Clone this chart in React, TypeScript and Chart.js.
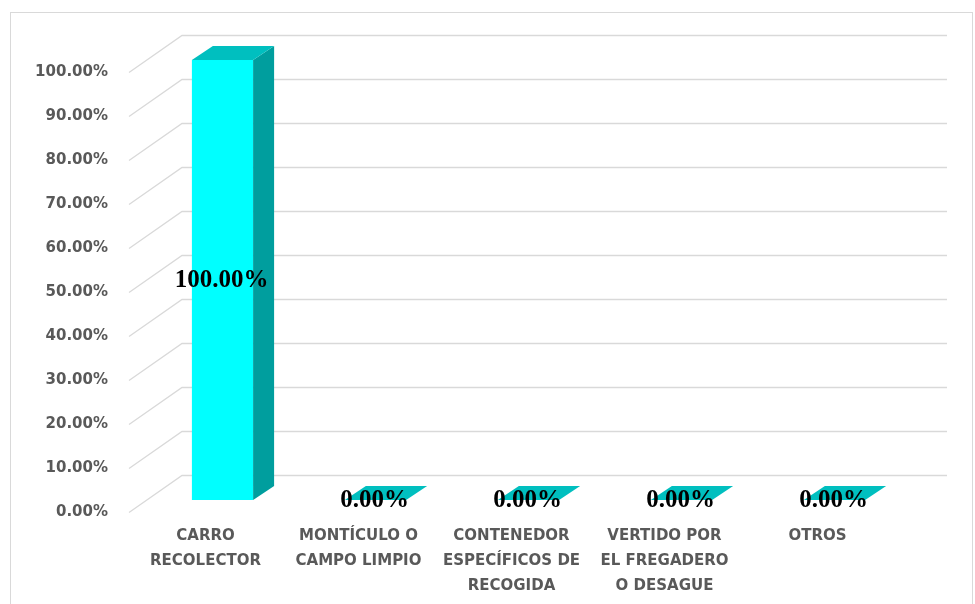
import React, { useEffect, useRef } from 'react';
import { Chart, registerables } from 'chart.js';

Chart.register(...registerables);

const categories: string[][] = [
  ['CARRO', 'RECOLECTOR'],
  ['MONTÍCULO O', 'CAMPO LIMPIO'],
  ['CONTENEDOR', 'ESPECÍFICOS DE', 'RECOGIDA'],
  ['VERTIDO POR', 'EL FREGADERO', 'O DESAGUE'],
  ['OTROS'],
];
const values = [100, 0, 0, 0, 0];
const yTicks = [0, 10, 20, 30, 40, 50, 60, 70, 80, 90, 100];

const FRONT = '#00FFFF';
const SIDE = '#009E9E';
const TOP = '#00BFBF';
const GRID = '#D9D9D9';
const TEXT = '#595959';

// 3D offsets (bar plane -> depth)
const DX = 21, DY = -14;
const FRONT_DX = -17, FRONT_DY = 12;
const BACK_DX = 36, BACK_DY = -25;

const fmt = (v: number) => v.toFixed(2) + '%';

const threeD = {
  id: 'threeD',
  beforeDraw(chart: any) {
    const ctx = chart.ctx;
    ctx.save();
    ctx.strokeStyle = GRID;
    ctx.lineWidth = 1;
    ctx.strokeRect(10.5, 12.5, 962, 640);
    const ys = chart.scales.y;
    const { left, right } = chart.chartArea;
    ctx.lineWidth = 1.3;
    for (const v of yTicks) {
      const py = Math.round(ys.getPixelForValue(v)) + 0.5;
      ctx.beginPath();
      ctx.moveTo(left + FRONT_DX, py + FRONT_DY);
      ctx.lineTo(left + BACK_DX, py + BACK_DY);
      ctx.lineTo(right + BACK_DX, py + BACK_DY);
      ctx.stroke();
    }
    ctx.restore();
  },
  afterDatasetsDraw(chart: any) {
    const ctx = chart.ctx;
    const meta = chart.getDatasetMeta(0);
    ctx.save();
    meta.data.forEach((bar: any) => {
      const { x, y, base, width } = bar.getProps(['x', 'y', 'base', 'width'], true);
      const l = x - width / 2, r = x + width / 2;
      ctx.fillStyle = SIDE;
      ctx.beginPath();
      ctx.moveTo(r, y);
      ctx.lineTo(r + DX, y + DY);
      ctx.lineTo(r + DX, base + DY);
      ctx.lineTo(r, base);
      ctx.closePath();
      ctx.fill();
      ctx.fillStyle = TOP;
      ctx.beginPath();
      ctx.moveTo(l, y);
      ctx.lineTo(r, y);
      ctx.lineTo(r + DX, y + DY);
      ctx.lineTo(l + DX, y + DY);
      ctx.closePath();
      ctx.fill();
    });
    ctx.fillStyle = '#000000';
    ctx.font = 'bold 25px "Liberation Serif", "Times New Roman", serif';
    ctx.textAlign = 'center';
    ctx.textBaseline = 'middle';
    meta.data.forEach((bar: any, i: number) => {
      const { x, y, base } = bar.getProps(['x', 'y', 'base'], true);
      ctx.fillText(fmt(values[i]), x - 1, (y + base) / 2 + 1);
    });
    ctx.restore();
  },
};

export default function App() {
  const ref = useRef<HTMLCanvasElement>(null);
  useEffect(() => {
    if (!ref.current) return;
    const tickFont = { family: '"DejaVu Sans", sans-serif', weight: 'bold' as const, size: 15, lineHeight: '25px' };
    const chart = new Chart(ref.current, {
      type: 'bar',
      data: {
        labels: categories,
        datasets: [
          {
            data: values,
            backgroundColor: FRONT,
            borderWidth: 0,
            barPercentage: 0.4,
            categoryPercentage: 1,
            clip: false as any,
          },
        ],
      },
      options: {
        animation: false,
        responsive: false,
        devicePixelRatio: 1,
        layout: { padding: { top: 60, right: 64, left: 0, bottom: 0 } },
        plugins: { legend: { display: false }, tooltip: { enabled: false } },
        scales: {
          x: {
            grid: { display: false, drawTicks: false },
            border: { display: false },
            ticks: {
              color: TEXT,
              font: tickFont as any,
              padding: 24,
              labelOffset: -17,
              maxRotation: 0,
              autoSkip: false,
            },
            afterFit: (s: any) => {
              s.height = 104;
            },
          },
          y: {
            min: 0,
            max: 100,
            grid: { display: false, drawTicks: false },
            border: { display: false },
            ticks: {
              stepSize: 10,
              color: TEXT,
              font: tickFont as any,
              padding: 38,
              labelOffset: 12,
              callback: (v: any) => fmt(Number(v)),
            },
            afterFit: (s: any) => {
              s.width = 146;
            },
          },
        },
      },
      plugins: [threeD],
    });
    return () => chart.destroy();
  }, []);
  return (
    <div style={{ position: 'fixed', left: 0, top: 0, width: 975, height: 604, background: '#fff' }}>
      <canvas ref={ref} width={975} height={604} style={{ display: 'block' }} />
    </div>
  );
}
